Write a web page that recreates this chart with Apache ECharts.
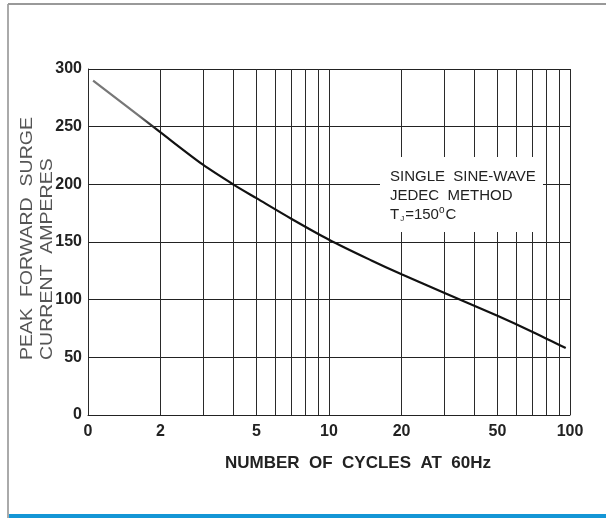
<!DOCTYPE html>
<html>
<head>
<meta charset="utf-8">
<script src="https://cdn.jsdelivr.net/npm/echarts@6/dist/echarts.min.js"></script>
<style>
  html, body { margin: 0; padding: 0; background: #fff; }
  #chart { width: 606px; height: 518px; }
</style>
</head>
<body>
<div id="chart"></div>
<script>
// surge curve
const cycles = [1.05, 2, 3, 4, 5, 7, 10, 15, 20, 30, 50, 70, 96];
const amps = [290, 245, 217, 200, 188, 170, 152, 134, 122, 106, 86, 72, 58];

// vertical grid lines of the log paper, and the ones that carry a label
const gridX = [1, 2, 3, 4, 5, 6, 7, 8, 9, 10, 20, 30, 40, 50, 60, 70, 80, 90, 100];
const tickLabels = { 1: "0", 2: "2", 5: "5", 10: "10", 20: "20", 50: "50", 100: "100" };
const yTicks = [0, 50, 100, 150, 200, 250, 300];

const chart = echarts.init(document.getElementById("chart"));

const vLines = gridX.map((v) => ({
  xAxis: v,
  label: {
    show: tickLabels[v] !== undefined,
    formatter: tickLabels[v] || "",
  },
}));

const option = {
  animation: false,
  backgroundColor: "#fff",
  grid: { left: 88, top: 69, right: 36, bottom: 103 },
  xAxis: {
    type: "log",
    logBase: 10,
    min: 1,
    max: 100,
    axisLine: { show: true, lineStyle: { color: "#222", width: 1 } },
    axisTick: { show: false },
    axisLabel: { show: false },
    splitLine: { show: false },
  },
  yAxis: {
    type: "value",
    min: yTicks[0],
    max: yTicks[yTicks.length - 1],
    interval: 50,
    axisLine: { show: true, lineStyle: { color: "#222", width: 1 } },
    axisTick: { show: false },
    axisLabel: {
      margin: 6,
      fontFamily: "'Liberation Sans', Arial, sans-serif",
      fontWeight: "bold",
      fontSize: 16,
      color: "#222",
    },
    splitLine: { show: true, lineStyle: { color: "#222", width: 1 } },
  },
  series: [
    {
      type: "line",
      data: cycles.map((c, i) => [c, amps[i]]),
      smooth: 0.3,
      symbol: "none",
      lineStyle: {
        width: 2.2,
        color: {
          type: "linear", x: 0, y: 0, x2: 1, y2: 0,
          colorStops: [
            { offset: 0, color: "#777" },
            { offset: 0.1, color: "#777" },
            { offset: 0.14, color: "#111" },
            { offset: 1, color: "#111" },
          ],
        },
      },
      z: 5,
      markLine: {
        silent: true,
        symbol: "none",
        animation: false,
        lineStyle: { color: "#2a2a2a", width: 1, type: "solid" },
        label: {
          position: "start",
          distance: 9,
          fontFamily: "'Liberation Sans', Arial, sans-serif",
          fontWeight: "bold",
          fontSize: 16,
          color: "#222",
        },
        emphasis: { disabled: true },
        data: vLines,
      },
    },
  ],
  graphic: [
    // note box covering the grid
    {
      type: "rect",
      z: 100,
      shape: { x: 380, y: 157, width: 163, height: 75 },
      style: { fill: "#fff" },
    },
    {
      type: "text",
      z: 101,
      x: 390,
      y: 167,
      style: {
        text: "SINGLE  SINE-WAVE\nJEDEC  METHOD\nT{sub|J}=150{sup|o}C",
        fontFamily: "'Liberation Sans', Arial, sans-serif",
        fontSize: 15,
        lineHeight: 19,
        fill: "#222",
        rich: {
          sub: { fontSize: 8, padding: [9, 1, 0, 1], fill: "#222" },
          sup: { fontSize: 10, padding: [0, 1, 8, 0], fill: "#222" },
        },
      },
    },
    // x axis title
    {
      type: "text",
      x: 358,
      y: 463,
      style: {
        text: "NUMBER  OF  CYCLES  AT  60Hz",
        fontFamily: "'Liberation Sans Narrow', 'Liberation Sans', Arial, sans-serif",
        fontWeight: "bold",
        fontSize: 17,
        fill: "#222",
        align: "center",
        verticalAlign: "middle",
      },
    },
    // y axis title, two rotated lines
    {
      type: "text",
      x: 28,
      y: 360,
      rotation: Math.PI / 2,
      scaleX: 1.22,
      style: {
        text: "PEAK  FORWARD  SURGE",
        fontFamily: "'Liberation Sans', Arial, sans-serif",
        fontSize: 16,
        fill: "#555",
        align: "left",
        verticalAlign: "middle",
      },
    },
    {
      type: "text",
      x: 48,
      y: 360,
      rotation: Math.PI / 2,
      scaleX: 1.22,
      style: {
        text: "CURRENT  AMPERES",
        fontFamily: "'Liberation Sans', Arial, sans-serif",
        fontSize: 16,
        fill: "#555",
        align: "left",
        verticalAlign: "middle",
      },
    },
    // page frame
    {
      type: "line",
      shape: { x1: 8, y1: 4, x2: 8, y2: 518 },
      style: { stroke: "#aaa", lineWidth: 2 },
    },
    {
      type: "line",
      shape: { x1: 8, y1: 4, x2: 606, y2: 4 },
      style: { stroke: "#999", lineWidth: 2 },
    },
    {
      type: "rect",
      shape: { x: 9, y: 514, width: 597, height: 4 },
      style: { fill: "#1496d6" },
    },
  ],
};

chart.setOption(option);
</script>
</body>
</html>
